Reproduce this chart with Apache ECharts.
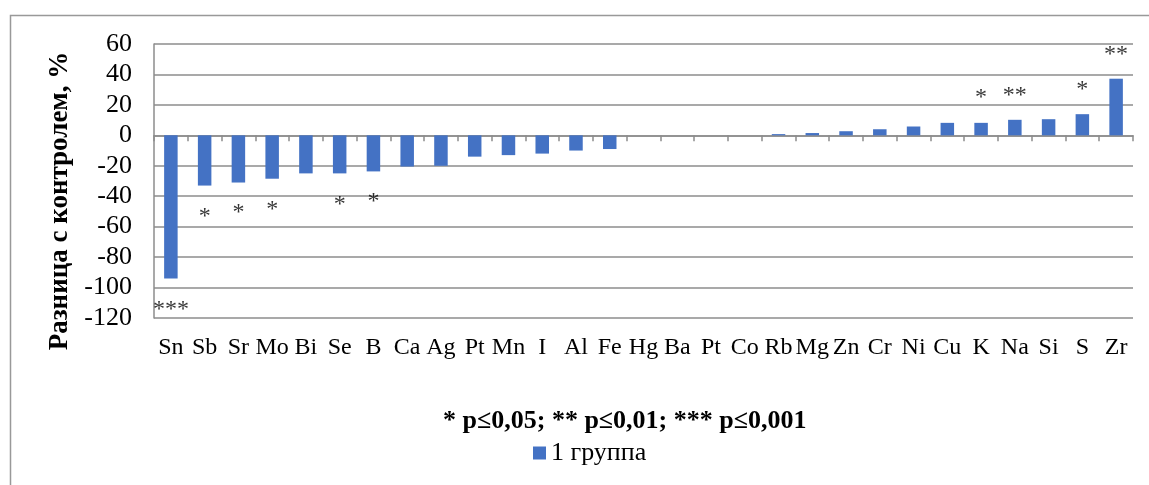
<!DOCTYPE html>
<html>
<head>
<meta charset="utf-8">
<script src="https://cdn.jsdelivr.net/npm/echarts@6/dist/echarts.min.js"></script>
<style>html,body{margin:0;padding:0;background:#fff;}#c{width:1149px;height:485px;}</style>
</head>
<body>
<div id="c"></div>
<script>
const categories = ['Sn','Sb','Sr','Mo','Bi','Se','B','Ca','Ag','Pt','Mn','I','Al','Fe','Hg','Ba','Pt','Co','Rb','Mg','Zn','Cr','Ni','Cu','K','Na','Si','S','Zr'];
const group1 = [-94,-33,-31,-28.5,-25,-25,-23.7,-20.5,-20,-14,-13,-12,-10,-9,0,0,0,0,0.8,1.5,2.7,4,5.8,8.2,8.2,10.2,10.6,13.9,37.2];
const sigIndex = [0,1,2,3,5,6,24,25,27,28];
const sigText = ['***','*','*','*','*','*','*','**','*','**'];
const sigY = [-111,-50,-47.5,-45.5,-42,-40,28,29.5,33,56.5];
const yTicks = {min:-120, max:60, interval:20};

const FONT = "'Liberation Serif','Times New Roman',serif";
const GRID = '#8c8c8c';
const chart = echarts.init(document.getElementById('c'));
const sigData = sigIndex.map((ci,i)=>({value:[ci, sigY[i]], label:{formatter: sigText[i]}}));

chart.setOption({
  animation:false,
  backgroundColor:'#fff',
  graphic:[{type:'rect', shape:{x:10.5,y:15.5,width:1300,height:700}, style:{fill:'none', stroke:'#999', lineWidth:1.5}, silent:true}],
  title:{text:'* p≤0,05; ** p≤0,01; *** p≤0,001', left:443, top:408, padding:0,
    textStyle:{fontFamily:FONT, fontSize:26, fontWeight:'bold', color:'#000'}},
  legend:{data:['1 группа'], left:533, top:440, padding:0, itemWidth:13, itemHeight:13, itemGap:6,
    icon:'rect', textStyle:{fontFamily:FONT, fontSize:26, color:'#000'}},
  grid:{left:154, top:44, right:16, bottom:167},
  xAxis:[
    {type:'category', data:categories, position:'bottom',
     axisLine:{show:false, onZero:false}, axisTick:{show:false},
     axisLabel:{interval:0, margin:18, fontFamily:FONT, fontSize:24, color:'#000'}},
    {type:'category', data:categories, position:'top',
     axisLine:{show:true, onZero:true, lineStyle:{color:GRID, width:1.5}},
     axisTick:{show:true, inside:true, length:6, lineStyle:{color:GRID, width:1.5}},
     axisLabel:{show:false}}
  ],
  yAxis:{type:'value', min:yTicks.min, max:yTicks.max, interval:yTicks.interval,
    name:'Разница с контролем, %', nameLocation:'middle', nameGap:79, nameRotate:90,
    nameTextStyle:{fontFamily:FONT, fontSize:27, fontWeight:'bold', color:'#000', padding:[0,40,0,0]},
    axisLine:{show:true, lineStyle:{color:GRID, width:1.5}}, axisTick:{show:false},
    splitLine:{lineStyle:{color:GRID, width:1.5}},
    axisLabel:{margin:22, fontFamily:FONT, fontSize:26, color:'#000'}},
  series:[
    {name:'1 группа', type:'bar', data:group1, barWidth:'40%', xAxisIndex:0,
     itemStyle:{color:'#4472C4'}},
    {name:'sig', type:'scatter', data:sigData, xAxisIndex:0, symbolSize:0, silent:true,
     label:{show:true, position:'inside', offset:[0,5], fontFamily:FONT, fontSize:24, color:'#000'}}
  ]
});
</script>
</body>
</html>
